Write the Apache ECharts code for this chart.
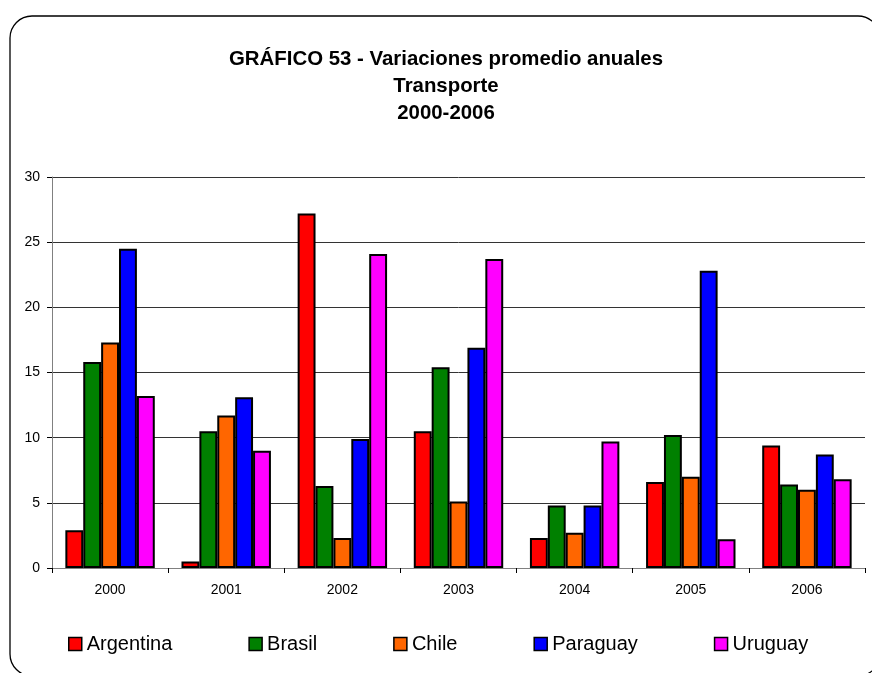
<!DOCTYPE html>
<html>
<head>
<meta charset="utf-8">
<script src="https://cdn.jsdelivr.net/npm/echarts@6/dist/echarts.min.js"></script>
<style>
html,body{margin:0;padding:0;background:#fff;}
#chart{width:872px;height:673px;}
</style>
</head>
<body>
<div id="chart"></div>
<script>
var titleLines = ['GRÁFICO 53 - Variaciones promedio anuales', 'Transporte', '2000-2006'];
var years = ['2000', '2001', '2002', '2003', '2004', '2005', '2006'];
var countries = ['Argentina', 'Brasil', 'Chile', 'Paraguay', 'Uruguay'];
var colors = ['#FF0000', '#008000', '#FF6600', '#0000FF', '#FF00FF'];
var argentina = [2.9, 0.5, 27.2, 10.5, 2.3, 6.6, 9.4];
var brasil = [15.8, 10.5, 6.3, 15.4, 4.8, 10.2, 6.4];
var chile = [17.3, 11.7, 2.3, 5.1, 2.7, 7.0, 6.0];
var paraguay = [24.5, 13.1, 9.9, 16.9, 4.8, 22.8, 8.7];
var uruguay = [13.2, 9.0, 24.1, 23.7, 9.7, 2.2, 6.8];
var yTicks = [0, 5, 10, 15, 20, 25, 30];

var seriesData = [argentina, brasil, chile, paraguay, uruguay];
var font = 'Liberation Sans, Arial, sans-serif';

var chart = echarts.init(document.getElementById('chart'), null, {renderer: 'canvas'});
var option = {
  animation: false,
  backgroundColor: '#fff',
  title: {
    text: titleLines.join('\n'),
    left: 446,
    textAlign: 'center',
    top: 46,
    padding: 0,
    textStyle: {fontFamily: font, fontSize: 20.4, fontWeight: 'bold', color: '#000', lineHeight: 27}
  },
  legend: {
    data: countries,
    left: 68,
    top: 634,
    padding: 0,
    icon: 'rect',
    itemWidth: 13,
    itemHeight: 13,
    itemGap: 76,
    textStyle: {fontFamily: font, fontSize: 20, color: '#000'},
    itemStyle: {borderColor: '#000', borderWidth: 1.5}
  },
  grid: {left: 52, right: 7, top: 177, bottom: 105, containLabel: false},
  xAxis: {
    type: 'category',
    data: years,
    axisLine: {show: true, lineStyle: {color: '#808080', width: 1}},
    axisTick: {show: true, length: 5, lineStyle: {color: '#000'}},
    axisLabel: {fontFamily: font, fontSize: 14, color: '#000', margin: 15}
  },
  yAxis: {
    type: 'value',
    min: yTicks[0],
    max: yTicks[yTicks.length - 1],
    interval: 5,
    axisLine: {show: true, lineStyle: {color: '#808080', width: 1}},
    axisTick: {show: true, length: 5, lineStyle: {color: '#000'}},
    axisLabel: {fontFamily: font, fontSize: 14, color: '#000', margin: 12},
    splitLine: {show: true, lineStyle: {color: '#333', width: 1}}
  },
  series: countries.map(function (name, i) {
    return {
      name: name,
      type: 'bar',
      data: seriesData[i],
      barGap: '0%',
      barCategoryGap: '23%',
      itemStyle: {color: colors[i], borderColor: '#000', borderWidth: 2}
    };
  }),
  graphic: [{
    type: 'rect',
    shape: {x: 10, y: 16, width: 870, height: 660, r: 22},
    style: {fill: null, stroke: '#000', lineWidth: 1.3},
    silent: true,
    z: 100
  }]
};
chart.setOption(option);
</script>
</body>
</html>
